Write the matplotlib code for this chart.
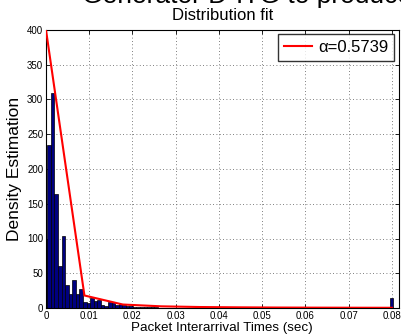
import numpy as np
import matplotlib
matplotlib.use("Agg")
import matplotlib.pyplot as plt

plt.rcParams['font.family'] = ['Liberation Sans', 'DejaVu Sans']

# Histogram (density estimation) data
bin_start = -0.000525
bin_width = 0.000825
bar_heights = [100, 234, 309, 164, 60, 103, 33, 20, 40, 20,
               27, 8, 7, 15, 10, 11, 4, 3.5, 9, 8,
               5, 6, 5, 3, 3.5, 2, 1.5, 1.5, 1, 1,
               1, 0.8, 0.5, 0.5, 0.4, 0.3, 0.3, 0.3, 0.2, 0.2,
               0.2, 0.2, 0.2, 0.2, 0.2, 0.3, 1.5, 2, 0.5, 0.2,
               0.2, 0.1, 0.1, 0.1, 0.1, 0.1, 0.1, 0.1, 0.1, 0.1,
               0.1, 0.1, 0.1, 0.1, 0.1, 0.1, 0.1, 0.1, 0.1, 0.1,
               0.1, 0.1, 0.1, 0.1, 0.1, 0.1, 0.1, 0.1, 0.1, 0.1,
               0.1, 0.1, 0.1, 0.1, 0.1, 0.1, 0.1, 0.1, 0.1, 0.1,
               0.1, 0.1, 0.1, 0.1, 0.1, 0.1, 0.1, 15]

# Fitted distribution line
fit_x = np.linspace(0, 0.08, 10)
fit_y = [400, 18, 5, 2.4, 1.4, 0.95, 0.66, 0.5, 0.39, 0.31]
fit_label = 'α=0.5739'

xticks = [0, 0.01, 0.02, 0.03, 0.04, 0.05, 0.06, 0.07, 0.08]
xticklabels = ['0', '0.01', '0.02', '0.03', '0.04', '0.05', '0.06', '0.07', '0.08']
yticks = [0, 50, 100, 150, 200, 250, 300, 350, 400]

fig = plt.figure(figsize=(4.01, 3.35), dpi=100)
ax = fig.add_axes([46/401, 27/335, 352.5/401, 278/335])

lefts = bin_start + bin_width * np.arange(len(bar_heights))
ax.bar(lefts, bar_heights, width=bin_width, align='edge',
       color='#000080', edgecolor='black', linewidth=0.5, zorder=2)
ax.plot(fit_x, fit_y, color='red', linewidth=1.5, label=fit_label, zorder=3,
        clip_on=True)

ax.set_xlim(0, 0.08153)
ax.set_ylim(0, 400)
ax.set_xticks(xticks)
ax.set_xticklabels(xticklabels)
ax.set_yticks(yticks)
ax.tick_params(direction='in', length=3, width=0.6, labelsize=7,
               top=True, right=True, pad=2)
ax.grid(True, linestyle=(0, (1, 3)), color='#555555', linewidth=0.6, zorder=0)
ax.set_axisbelow(True)
for s in ax.spines.values():
    s.set_linewidth(0.8)

ax.set_xlabel('Packet Interarrival Times (sec)', fontsize=9.6, labelpad=1)
ax.set_ylabel('Density Estimation', fontsize=12.5, labelpad=4)
ax.set_title('Distribution fit', fontsize=12, pad=7)

fig.text(82/401, 1 - 3/335, 'Generator D-ITG to produce traffic', fontsize=19,
         ha='left', va='baseline')

leg = ax.legend(loc='upper right', fontsize=12, frameon=True, fancybox=False,
                borderpad=0.35, handlelength=1.7, handletextpad=0.35,
                borderaxespad=0.25)
leg.get_frame().set_edgecolor('black')
leg.get_frame().set_linewidth(1.0)

fig.savefig('out.png', dpi=100)
